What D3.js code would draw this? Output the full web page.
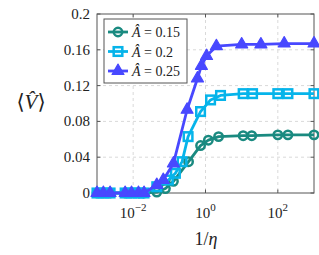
<!DOCTYPE html>
<html>
<head>
<meta charset="utf-8">
<script src="https://cdn.jsdelivr.net/npm/d3@7"></script>
<style>
  body { margin: 0; background: #fff; }
  svg text { font-family: "Liberation Serif", "DejaVu Serif", "Times New Roman", serif; }
  .alt { font-family: "DejaVu Serif"; }
</style>
</head>
<body>
<svg id="chart" width="319" height="255"></svg>
<script>
// series data (x = 1/eta, value = <V>)
const circleX = [0.001, 0.0015, 0.0023, 0.006, 0.009, 0.014, 0.02, 0.045, 0.078, 0.13, 0.34, 0.73, 1.2, 2.3, 11, 19, 100, 190, 1000];
const circleV = [0, 0, 0, 0, 0, 0, 0, 0.001, 0.005, 0.013, 0.035, 0.053, 0.059, 0.063, 0.064, 0.064, 0.065, 0.065, 0.065];

const squareX = [0.001, 0.0015, 0.0023, 0.006, 0.009, 0.014, 0.02, 0.045, 0.094, 0.147, 0.225, 0.33, 0.73, 1.38, 2.6, 11, 20, 100, 190, 1000];
const squareV = [0, 0, 0, 0, 0, 0, 0, 0.007, 0.0145, 0.022, 0.035, 0.063, 0.091, 0.104, 0.109, 0.111, 0.111, 0.111, 0.111, 0.111];

const triX = [0.001, 0.0015, 0.0023, 0.006, 0.009, 0.014, 0.02, 0.045, 0.068, 0.13, 0.31, 0.6, 0.77, 1.07, 2, 10, 34, 150, 1000];
const triV = [0, 0, 0, 0, 0, 0, 0, 0.009, 0.0145, 0.033, 0.093, 0.128, 0.142, 0.153, 0.164, 0.166, 0.166, 0.167, 0.167];

const seriesNames = ["0.15", "0.2", "0.25"];
const yTicks = [0, 0.04, 0.08, 0.12, 0.16, 0.2];
const yTickLabels = ["0", "0.04", "0.08", "0.12", "0.16", "0.2"];
const xTicks = [1e-2, 1e0, 1e2];
const xTickExp = ["\u22122", "0", "2"];

const margin = {top: 14, right: 5, bottom: 62, left: 97},
  width = 319 - margin.left - margin.right,
  height = 255 - margin.top - margin.bottom;

const svg = d3.select("#chart");
const g = svg.append("g")
  .attr("transform", "translate(" + margin.left + "," + margin.top + ")");

const x = d3.scaleLog().domain([1e-3, 1e3]).range([0, width]);
const y = d3.scaleLinear().domain([0, 0.2]).range([height, 0]);

// grid
g.selectAll(".gx").data(xTicks).enter().append("line")
  .attr("x1", d => x(d)).attr("x2", d => x(d))
  .attr("y1", 0).attr("y2", height)
  .attr("stroke", "#d9d9d9").attr("stroke-dasharray", "3,3");
g.selectAll(".gy").data(yTicks.slice(1, -1)).enter().append("line")
  .attr("x1", 0).attr("x2", width)
  .attr("y1", d => y(d)).attr("y2", d => y(d))
  .attr("stroke", "#d9d9d9").attr("stroke-dasharray", "3,3");

// inner tick marks on all four sides
const tl = 3.5;
yTicks.forEach(function(t) {
  g.append("line").attr("x1", 0).attr("x2", tl).attr("y1", y(t)).attr("y2", y(t)).attr("stroke", "#555");
  g.append("line").attr("x1", width).attr("x2", width - tl).attr("y1", y(t)).attr("y2", y(t)).attr("stroke", "#555");
});
xTicks.forEach(function(t) {
  g.append("line").attr("x1", x(t)).attr("x2", x(t)).attr("y1", height).attr("y2", height - tl).attr("stroke", "#555");
  g.append("line").attr("x1", x(t)).attr("x2", x(t)).attr("y1", 0).attr("y2", tl).attr("stroke", "#555");
});

// frame
g.append("rect").attr("width", width).attr("height", height)
  .attr("fill", "none").attr("stroke", "#555").attr("stroke-width", 1);

// y tick labels
g.selectAll(".yl").data(yTicks).enter().append("text")
  .attr("x", -7).attr("y", d => y(d) + 5)
  .attr("text-anchor", "end").attr("font-size", 15).attr("fill", "#222")
  .text((d, i) => yTickLabels[i]);

// x tick labels 10^k
xTicks.forEach(function(t, i) {
  const txt = g.append("text")
    .attr("y", height + 25).attr("font-size", 15).attr("fill", "#222")
    .attr("text-anchor", "middle")
    .attr("x", x(t));
  txt.append("tspan").text("10");
  txt.append("tspan").attr("dy", -7).attr("font-size", 11).text(xTickExp[i]);
});

// axis labels
const xl = svg.append("text").attr("x", 206).attr("y", 245)
  .attr("text-anchor", "middle").attr("font-size", 18).attr("fill", "#222");
xl.append("tspan").text("1/");
xl.append("tspan").attr("font-style", "italic").text("\u03B7");

const yl = svg.append("text").attr("x", 31).attr("y", 109)
  .attr("text-anchor", "middle").attr("font-size", 21).attr("fill", "#222");
yl.append("tspan").text("\u27E8");
yl.append("tspan").attr("font-style", "italic").text("V\u0302");
yl.append("tspan").text("\u27E9");

// series
const series = [
  {xs: circleX, vs: circleV, color: "#1a8a80", mark: "circle"},
  {xs: squareX, vs: squareV, color: "#06b4ea", mark: "square"},
  {xs: triX, vs: triV, color: "#4848ff", mark: "triangle"}
];

const line = d3.line().x(d => x(d[0])).y(d => y(d[1]));

function drawMark(sel, s) {
  if (s.mark === "circle") {
    sel.append("circle").attr("r", 4.2)
      .attr("fill", "none").attr("stroke", s.color).attr("stroke-width", 2.5);
  } else if (s.mark === "square") {
    sel.append("rect").attr("x", -4.3).attr("y", -4.3).attr("width", 8.6).attr("height", 8.6)
      .attr("fill", "none").attr("stroke", s.color).attr("stroke-width", 2.5);
  } else {
    sel.append("path").attr("d", d3.symbol().type(d3.symbolTriangle).size(62)())
      .attr("fill", s.color).attr("stroke", s.color).attr("stroke-width", 1.2)
      .attr("stroke-linejoin", "round");
  }
}

series.forEach(function(s) {
  const pts = s.xs.map((v, i) => [v, s.vs[i]]);
  g.append("path").datum(pts)
    .attr("d", line)
    .attr("fill", "none").attr("stroke", s.color).attr("stroke-width", 2.8)
    .attr("stroke-linejoin", "round");
  g.selectAll(null).data(pts).enter().append("g")
    .attr("transform", d => "translate(" + x(d[0]) + "," + y(d[1]) + ")")
    .each(function() { drawMark(d3.select(this), s); });
});

// legend
const lg = svg.append("g").attr("transform", "translate(104,19)");
lg.append("rect").attr("width", 83).attr("height", 64)
  .attr("fill", "#fff").attr("stroke", "#555");
series.forEach(function(s, i) {
  const row = lg.append("g").attr("transform", "translate(0," + (13 + i * 19.5) + ")");
  row.append("line").attr("x1", 4).attr("x2", 24)
    .attr("stroke", s.color).attr("stroke-width", 2.8);
  drawMark(row.append("g").attr("transform", "translate(14,0)"), s);
  const t = row.append("text").attr("x", 28).attr("y", 5).attr("font-size", 14).attr("fill", "#222");
  t.append("tspan").attr("font-style", "italic").text("A\u0302");
  t.append("tspan").text(" = " + seriesNames[i]);
});
</script>
</body>
</html>
